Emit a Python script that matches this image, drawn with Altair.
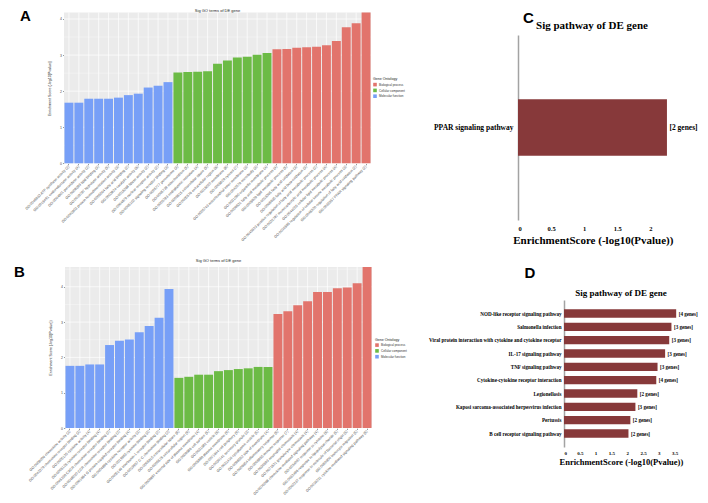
import altair as alt
import pandas as pd

# ---------------- data ----------------
ONTOLOGIES = ["Biological process", "Cellular component", "Molecular function"]
ONT_COLORS = ["#E2746C", "#6CBB45", "#779FF7"]

A_MF_TERMS = [
    "GO:0046933 ATP synthase activity (2)",
    "GO:0016491 oxidoreductase activity (4)",
    "GO:0004601 peroxidase activity (2)",
    "GO:0008289 lipid binding (3)",
    "GO:0016787 hydrolase activity (5)",
    "GO:0042803 protein homodimerization activity (3)",
    "GO:0005504 fatty acid binding (2)",
    "GO:0003824 catalytic activity (6)",
    "GO:0016298 lipase activity (2)",
    "GO:0004879 nuclear receptor activity (2)",
    "GO:0005102 signaling receptor binding (3)",
]
A_MF_SCORES = [1.68, 1.68, 1.79, 1.79, 1.79, 1.82, 1.89, 1.93, 2.10, 2.15, 2.25]
A_CC_TERMS = [
    "GO:0005777 peroxisome (3)",
    "GO:0005739 mitochondrion (5)",
    "GO:0005783 endoplasmic reticulum (4)",
    "GO:0005615 extracellular space (5)",
    "GO:0005576 extracellular region (6)",
    "GO:0016020 membrane (8)",
    "GO:0005829 cytosol (7)",
    "GO:0005743 mitochondrial inner membrane (3)",
    "GO:0042579 microbody (3)",
    "GO:0031090 organelle membrane (4)",
]
A_CC_SCORES = [2.52, 2.53, 2.54, 2.55, 2.76, 2.85, 2.93, 2.95, 3.01, 3.06]
A_BP_TERMS = [
    "GO:0006631 fatty acid metabolic process (4)",
    "GO:0006629 lipid metabolic process (5)",
    "GO:0019395 fatty acid oxidation (3)",
    "GO:0006635 fatty acid beta-oxidation (3)",
    "GO:0045923 positive regulation of fatty acid metabolic process (2)",
    "GO:0032787 monocarboxylic acid metabolic process (4)",
    "GO:0044255 cellular lipid metabolic process (4)",
    "GO:0010565 regulation of cellular ketone metabolic process (3)",
    "GO:0046320 regulation of fatty acid oxidation (2)",
    "GO:0035357 PPAR signaling pathway (2)",
]
A_BP_SCORES = [3.16, 3.17, 3.20, 3.22, 3.23, 3.27, 3.39, 3.77, 3.88, 4.18]

B_MF_TERMS = [
    "GO:0008009 chemokine activity (3)",
    "GO:0042379 chemokine receptor binding (3)",
    "GO:0005125 cytokine activity (4)",
    "GO:0005126 cytokine receptor binding (4)",
    "GO:0045236 CXCR chemokine receptor binding (2)",
    "GO:0048020 CCR chemokine receptor binding (2)",
    "GO:0001664 G protein-coupled receptor binding (4)",
    "GO:0004896 cytokine receptor activity (3)",
    "GO:0019955 cytokine binding (3)",
    "GO:0005149 interleukin-1 receptor binding (2)",
    "GO:0019957 C-C chemokine binding (2)",
]
B_MF_SCORES = [1.76, 1.76, 1.80, 1.80, 2.35, 2.47, 2.51, 2.71, 2.89, 3.12, 3.94]
B_CC_TERMS = [
    "GO:0005615 extracellular space (8)",
    "GO:0005576 extracellular region (9)",
    "GO:0009897 external side of plasma membrane (4)",
    "GO:0009986 cell surface (5)",
    "GO:0031982 vesicle (6)",
    "GO:0005886 plasma membrane (9)",
    "GO:0071944 cell periphery (9)",
    "GO:0030141 secretory granule (3)",
    "GO:0031410 cytoplasmic vesicle (5)",
    "GO:0098552 side of membrane (4)",
]
B_CC_SCORES = [1.42, 1.45, 1.51, 1.51, 1.61, 1.64, 1.67, 1.69, 1.73, 1.73]
B_BP_TERMS = [
    "GO:0006954 inflammatory response (6)",
    "GO:0006955 immune response (7)",
    "GO:0030593 neutrophil chemotaxis (4)",
    "GO:0071621 granulocyte chemotaxis (4)",
    "GO:0070098 chemokine-mediated signaling pathway (4)",
    "GO:0034097 response to cytokine (6)",
    "GO:0032496 response to lipopolysaccharide (5)",
    "GO:0002237 response to molecule of bacterial origin (5)",
    "GO:0050900 leukocyte migration (5)",
    "GO:0019221 cytokine-mediated signaling pathway (6)",
]
B_BP_SCORES = [3.23, 3.31, 3.48, 3.59, 3.85, 3.85, 3.96, 3.98, 4.10, 4.56]

GO_Y_TICKS = [0, 1, 2, 3, 4]
GO_Y_MINOR = [0.5, 1.5, 2.5, 3.5, 4.5]

C_PATHWAYS = ["PPAR signaling pathway"]
C_SCORES = [2.25]
C_GENES = ["[2 genes]"]
C_TICKS = [0, 0.5, 1, 1.5, 2]

D_PATHWAYS = [
    "NOD-like receptor signaling pathway",
    "Salmonella infection",
    "Viral protein interaction with cytokine and cytokine receptor",
    "IL-17 signaling pathway",
    "TNF signaling pathway",
    "Cytokine-cytokine receptor interaction",
    "Legionellosis",
    "Kaposi sarcoma-associated herpesvirus infection",
    "Pertussis",
    "B cell receptor signaling pathway",
]
D_SCORES = [3.55, 3.40, 3.33, 3.20, 2.96, 2.92, 2.32, 2.26, 2.10, 2.04]
D_GENES = ["[4 genes]", "[3 genes]", "[3 genes]", "[3 genes]", "[3 genes]",
           "[4 genes]", "[2 genes]", "[3 genes]", "[2 genes]", "[2 genes]"]
D_TICKS = [0, 0.5, 1, 1.5, 2, 2.5, 3, 3.5]

# ---------------- layout / style ----------------
W, H = 692, 487
SANS = "Liberation Sans"
SERIF = "Liberation Serif"
KEGG_BAR = "#87393A"
AXIS_GREY = "#A3A3A3"
TITLE_GO = "Sig GO terms of DE gene"
TITLE_KEGG = "Sig pathway of DE gene"
Y_TITLE_GO = "Enrichment Score (-log10(Pvalue))"
X_TITLE_KEGG = "EnrichmentScore (-log10(Pvalue))"


def go_panel(mf_t, mf_s, cc_t, cc_s, bp_t, bp_s, x0, x1, ybot, ytop, leg_x, leg_y):
    terms = mf_t + cc_t + bp_t
    onts = (["Molecular function"] * len(mf_t) + ["Cellular component"] * len(cc_t)
            + ["Biological process"] * len(bp_t))
    scores = mf_s + cc_s + bp_s
    ymax = max(scores)
    df = pd.DataFrame({"term": terms, "ontology": onts, "score": scores})
    df["lo"] = 0.0
    df["hi"] = ymax
    xs = alt.Scale(domain=terms, range=[x0, x1], paddingInner=0.1, paddingOuter=0.05)
    ys = alt.Scale(domain=[0, ymax], range=[ybot, ytop], nice=False, zero=False)

    bg = alt.Chart(pd.DataFrame({"lo": [0.0], "hi": [ymax]})).mark_rect(color="#EBEBEB").encode(
        x=alt.value(x0), x2=alt.value(x1),
        y=alt.Y("lo:Q", scale=ys, axis=None), y2="hi:Q")
    vgrid = alt.Chart(df).mark_rule(color="white", strokeWidth=0.7).encode(
        x=alt.X("term:N", scale=xs, axis=None, sort=None),
        y=alt.Y("lo:Q", scale=ys, axis=None), y2="hi:Q")
    hmaj = alt.Chart(pd.DataFrame({"v": [v for v in GO_Y_TICKS if v <= ymax]})).mark_rule(
        color="white", strokeWidth=0.7).encode(
        y=alt.Y("v:Q", scale=ys, axis=None), x=alt.value(x0), x2=alt.value(x1))
    hmin = alt.Chart(pd.DataFrame({"v": [v for v in GO_Y_MINOR if v <= ymax]})).mark_rule(
        color="white", strokeWidth=0.35).encode(
        y=alt.Y("v:Q", scale=ys, axis=None), x=alt.value(x0), x2=alt.value(x1))
    bars = alt.Chart(df).mark_bar().encode(
        x=alt.X("term:N", scale=xs, sort=None, axis=alt.Axis(
            orient="bottom", offset=ybot - H, title=None, labelAngle=-45,
            labelAlign="right", labelBaseline="middle", labelFont=SANS,
            labelFontSize=3.6, labelColor="#4D4D4D", labelPadding=1,
            labelLimit=400, labelOverlap=False, tickSize=1.5, tickWidth=0.5,
            tickColor="#333333", domain=False, grid=False)),
        y=alt.Y("score:Q", scale=ys, axis=alt.Axis(
            orient="left", offset=-x0, values=GO_Y_TICKS, format="d",
            labelFont=SANS, labelFontSize=3.5, labelColor="#4D4D4D", labelPadding=1,
            tickSize=1.5, tickWidth=0.5, tickColor="#333333", domain=False, grid=False,
            title=Y_TITLE_GO, titleFont=SANS, titleFontSize=3.6,
            titleFontWeight="normal", titleColor="#222222", titlePadding=8)),
        color=alt.Color("ontology:N", scale=alt.Scale(domain=ONTOLOGIES, range=ONT_COLORS),
                        legend=alt.Legend(
                            orient="none", legendX=leg_x, legendY=leg_y,
                            title="Gene Ontology", titleFont=SANS, titleFontSize=3.6,
                            titleFontWeight="normal", titleColor="#222222", titlePadding=2,
                            labelFont=SANS, labelFontSize=3, labelColor="#333333",
                            labelOffset=2, symbolType="square", symbolSize=13,
                            symbolStrokeWidth=0, rowPadding=1.8, padding=0)))
    return alt.layer(bg, vgrid, hmaj, hmin, bars).resolve_axis(x="independent", y="independent")


def kegg_panel(paths, scores, genes, x0, x1, xmax, ticks, y0, y1, pin, pout,
               lab_size, tick_size, title_size, lab_pad, tlab_pad, title_pad):
    df = pd.DataFrame({"pathway": paths, "score": scores, "genes": genes})
    xs = alt.Scale(domain=[0, xmax], range=[x0, x1], nice=False, zero=False)
    ys = alt.Scale(domain=paths, range=[y0, y1], paddingInner=pin, paddingOuter=pout)
    bars = alt.Chart(df).mark_bar(color=KEGG_BAR).encode(
        x=alt.X("score:Q", scale=xs, axis=alt.Axis(
            orient="bottom", offset=y1 - H, values=ticks, format="~g",
            labelFont=SERIF, labelFontWeight="bold", labelFontSize=tick_size,
            labelColor="black", labelPadding=tlab_pad, ticks=False, domain=False,
            grid=False, title=X_TITLE_KEGG, titleFont=SERIF, titleFontWeight="bold",
            titleFontSize=title_size, titleColor="black", titlePadding=title_pad)),
        y=alt.Y("pathway:N", scale=ys, sort=None, axis=alt.Axis(
            orient="left", offset=-x0, title=None, labelFont=SERIF,
            labelFontWeight="bold", labelFontSize=lab_size, labelColor="black",
            labelPadding=lab_pad, labelLimit=400, ticks=False, grid=False,
            domainColor=AXIS_GREY, domainWidth=1.5)))
    txt = alt.Chart(df).mark_text(align="left", baseline="middle", dx=2.5, font=SERIF,
                                  fontWeight="bold", fontSize=lab_size, color="black").encode(
        x=alt.X("score:Q", scale=xs, axis=None),
        y=alt.Y("pathway:N", scale=ys, sort=None, axis=None),
        text="genes:N")
    return alt.layer(bars, txt).resolve_axis(x="independent", y="independent")


def note(text, x, y, size, font=SANS, weight="bold", color="black"):
    return alt.Chart(pd.DataFrame({"t": [text]})).mark_text(
        align="center", baseline="alphabetic", font=font, fontWeight=weight,
        fontSize=size, color=color).encode(text="t:N", x=alt.value(x), y=alt.value(y))


panel_a = go_panel(A_MF_TERMS, A_MF_SCORES, A_CC_TERMS, A_CC_SCORES, A_BP_TERMS, A_BP_SCORES,
                   56, 363, 155.3, 4.5, 365, 69)
panel_b = go_panel(B_MF_TERMS, B_MF_SCORES, B_CC_TERMS, B_CC_SCORES, B_BP_TERMS, B_BP_SCORES,
                   57, 364, 420, 259, 367, 329.5)
panel_c = kegg_panel(C_PATHWAYS, C_SCORES, C_GENES, 510, 510 + 66.2 * 2.26, 2.26, C_TICKS,
                     27, 212, 0.5, 0.57, 7.5, 6.5, 11, 5, 5.5, 2)
panel_d = kegg_panel(D_PATHWAYS, D_SCORES, D_GENES, 556, 556 + 31.6 * 3.6, 3.6, D_TICKS,
                     292, 439, 0.375, 0.7, 5.1, 5, 8.5, 3, 3.7, 2)

texts = [
    note("A", 17.3, 12.5, 15),
    note("B", 11.5, 268.7, 15),
    note("C", 520.5, 15, 15),
    note("D", 522, 270, 15),
    note(TITLE_GO, 209.5, 3.6, 4, weight="normal", color="#222222"),
    note(TITLE_GO, 210.5, 253.5, 4, weight="normal", color="#222222"),
    note(TITLE_KEGG, 584, 20.5, 11, font=SERIF),
    note(TITLE_KEGG, 613, 287.5, 9, font=SERIF),
]

chart = alt.layer(panel_a, panel_b, panel_c, panel_d, *texts).resolve_scale(
    x="independent", y="independent", color="independent"
).properties(
    width=W, height=H, padding=0, autosize=alt.AutoSizeParams(type="none")
).configure_view(stroke=None)

chart.save("out.html", embed_options={"renderer": "svg", "actions": False})
